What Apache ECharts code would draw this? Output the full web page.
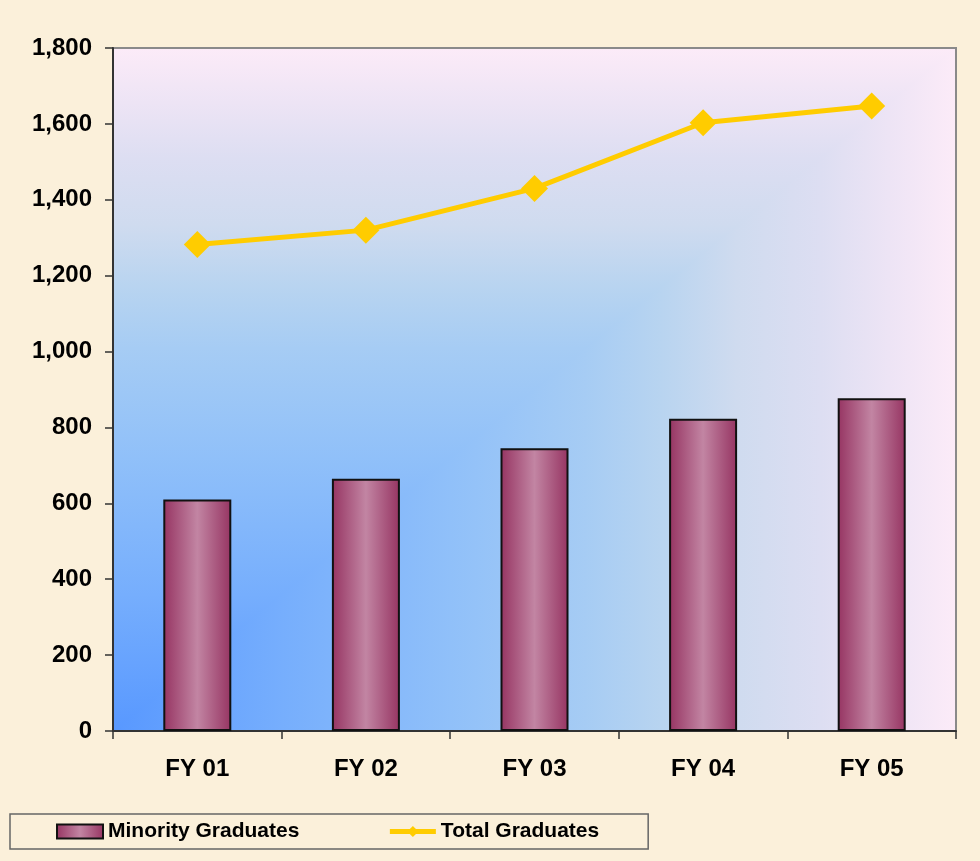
<!DOCTYPE html>
<html>
<head>
<meta charset="utf-8">
<script src="https://cdn.jsdelivr.net/npm/echarts@6/dist/echarts.min.js"></script>
<style>
html,body{margin:0;padding:0;background:#fbf0da;}
#main{width:980px;height:861px;}
</style>
</head>
<body>
<div id="main"></div>
<script>
const categories = ['FY 01', 'FY 02', 'FY 03', 'FY 04', 'FY 05'];
const minorityGraduates = [610, 665, 745, 823, 877];
const totalGraduates = [1282, 1320, 1430, 1603, 1647];
const yTicks = { min: 0, max: 1800, interval: 200 };

const FONT = '"Liberation Sans", Arial, sans-serif';
const G = { left: 113, right: 24, top: 48, bottom: 130 };
const W = 980, H = 861;
const gx0 = G.left, gy0 = G.top, gx1 = W - G.right, gy1 = H - G.bottom;

// "from corner" style background stops (blue at bottom-left to pink at top-right)
const bgStops = [
  { offset: 0, color: '#5898ff' },
  { offset: 0.2, color: '#76aefd' },
  { offset: 0.4, color: '#90c0f9' },
  { offset: 0.56, color: '#a6ccf4' },
  { offset: 0.65, color: '#b8d4f0' },
  { offset: 0.74, color: '#cfdbef' },
  { offset: 0.84, color: '#dddef2' },
  { offset: 0.92, color: '#ede4f5' },
  { offset: 1, color: '#fcebf8' }
];

const chart = echarts.init(document.getElementById('main'));
chart.setOption({
  backgroundColor: '#fbf0da',
  animation: false,
  graphic: [
    {
      type: 'rect', z: -10, silent: true,
      shape: { x: gx0, y: gy0, width: gx1 - gx0, height: gy1 - gy0 },
      style: { fill: new echarts.graphic.LinearGradient(0, 1, 0, 0, bgStops) }
    },
    {
      type: 'polygon', z: -9, silent: true,
      shape: { points: [[gx0, gy1], [gx1, gy1], [gx1, gy0]] },
      style: { fill: new echarts.graphic.LinearGradient(0, 0, 1, 0, bgStops) }
    }
  ],
  grid: {
    left: G.left, right: G.right, top: G.top, bottom: G.bottom,
    show: true,
    borderColor: '#8a8a8a',
    borderWidth: 2,
    backgroundColor: 'transparent'
  },
  legend: {
    left: 10, top: 814,
    padding: [7, 49, 7, 46],
    borderColor: '#666',
    borderWidth: 1.5,
    itemWidth: 46,
    itemHeight: 14,
    itemGap: 88,
    textStyle: { fontFamily: FONT, fontWeight: 'bold', fontSize: 21, color: '#000' },
    data: [
      { name: 'Minority Graduates', icon: 'rect' },
      { name: 'Total Graduates', lineStyle: { width: 5, color: '#ffcc00' } }
    ]
  },
  xAxis: {
    type: 'category',
    data: categories,
    boundaryGap: true,
    axisLine: { lineStyle: { color: '#333', width: 2 } },
    axisTick: { show: true, length: 8, lineStyle: { color: '#333', width: 1.5 } },
    axisLabel: { fontFamily: FONT, fontWeight: 'bold', fontSize: 24, color: '#000', margin: 26 }
  },
  yAxis: {
    type: 'value',
    min: yTicks.min, max: yTicks.max, interval: yTicks.interval,
    axisLine: { show: true, lineStyle: { color: '#333', width: 2 } },
    axisTick: { show: true, length: 8, lineStyle: { color: '#333', width: 1.5 } },
    splitLine: { show: false },
    axisLabel: {
      fontFamily: FONT, fontWeight: 'bold', fontSize: 24, color: '#000', margin: 21,
      formatter: v => v.toLocaleString('en-US')
    }
  },
  series: [
    {
      name: 'Minority Graduates',
      type: 'bar',
      data: minorityGraduates,
      barWidth: 68,
      z: 2,
      itemStyle: {
        color: new echarts.graphic.LinearGradient(0, 0, 1, 0, [
          { offset: 0, color: '#963462' },
          { offset: 0.5, color: '#c285a3' },
          { offset: 1, color: '#963462' }
        ]),
        borderColor: '#111',
        borderWidth: 2
      }
    },
    {
      name: 'Total Graduates',
      type: 'line',
      data: totalGraduates,
      z: 3,
      symbol: 'diamond',
      symbolSize: 27,
      itemStyle: { color: '#ffcc00' },
      lineStyle: { color: '#ffcc00', width: 5 }
    }
  ]
});
</script>
</body>
</html>
